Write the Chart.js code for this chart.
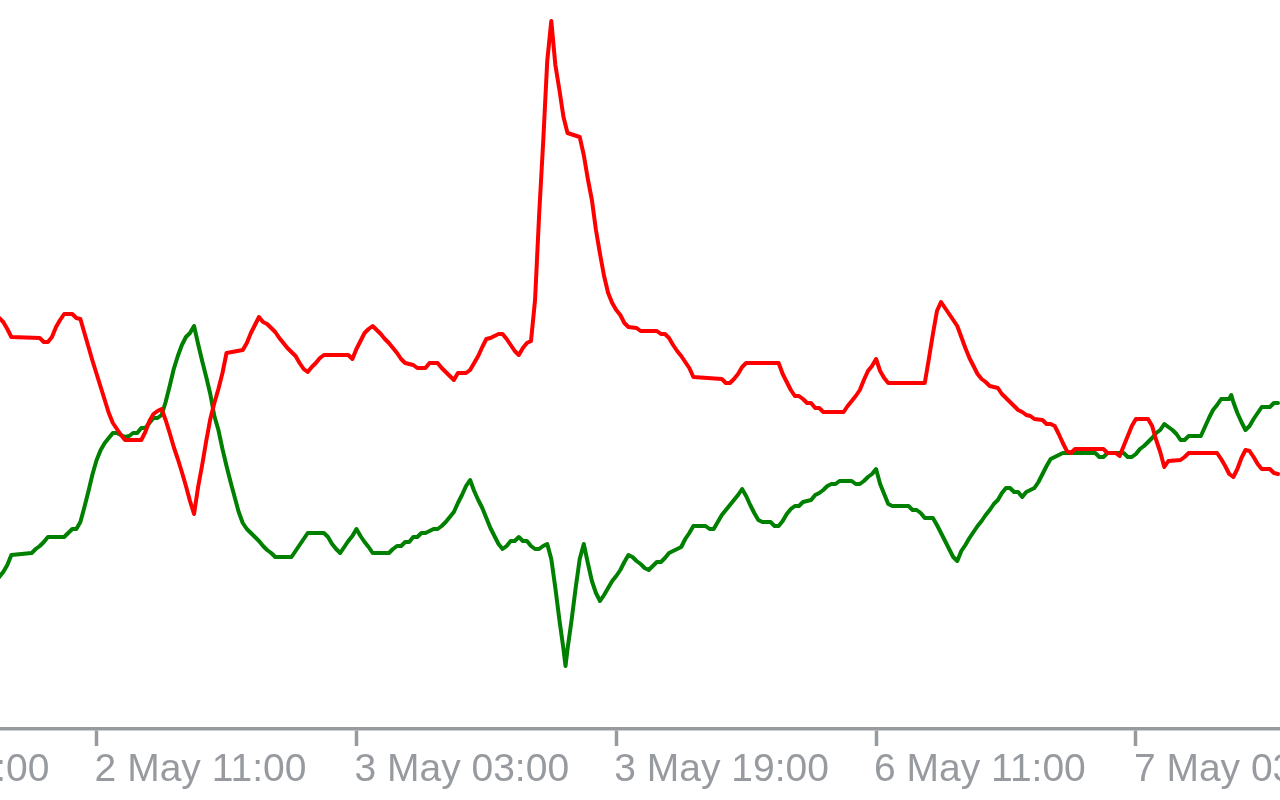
<!DOCTYPE html>
<html>
<head>
<meta charset="utf-8">
<title>DI lines</title>
<script src="https://cdn.jsdelivr.net/npm/chart.js@4/dist/chart.umd.min.js"></script>
<style>
  html, body { margin: 0; padding: 0; background: #ffffff; }
  #wrap { width: 1280px; height: 800px; }
</style>
</head>
<body>
<div id="wrap"><canvas id="chart" width="1280" height="800"></canvas></div>
<script>
// Datos: x = barra de 15 min (0 = 2 May 05:00), y = valor del indicador
const redX = [0,1,2,3,10,11,12,13,14,15,
  16,18,19,20,21,22,23,24,25,26,
  27,28,29,30,31,35,36,37,38,39,
  40,41,42,43,44,45,46,47,48,49,
  50,51,52,53,54,55,56,60,61,62,
  63,64,65,66,67,68,69,70,71,72,
  73,74,75,76,77,78,79,80,86,87,
  88,89,90,91,92,93,94,95,96,97,
  98,99,100,102,103,105,106,108,109,110,
  111,112,113,115,116,117,118,119,120,121,
  122,123,124,125,126,127,128,129,130,131,
  132,133,134,135,136,137,138,139,140,143,
  144,145,146,147,148,149,150,151,152,153,
  154,155,157,158,162,163,164,165,166,167,
  168,169,170,171,178,179,180,181,182,183,
  184,192,193,194,195,196,197,198,199,200,
  201,202,203,208,209,210,211,212,213,214,
  215,216,217,218,219,228,229,230,231,232,
  233,234,235,236,237,238,239,240,241,242,
  243,244,245,246,247,248,249,250,251,252,
  253,254,255,257,258,259,260,261,262,263,
  264,265,272,273,275,276,277,278,279,280,
  283,284,285,286,287,288,291,292,293,300,
  301,302,303,304,305,306,307,308,309,310,
  311,313,314,315];
const redY = [41.1,40.7,40.0,39.2,39.1,38.7,38.7,39.2,40.2,40.9,
  41.5,41.5,41.1,41.0,39.6,38.2,36.8,35.5,34.2,32.9,
  31.6,30.6,30.0,29.4,28.9,28.9,29.7,30.8,31.5,31.8,
  32.0,30.9,29.6,28.2,27.0,25.7,24.3,22.8,21.5,24.2,
  26.4,28.8,31.0,32.6,34.0,35.6,37.6,37.9,38.6,39.6,
  40.4,41.2,40.7,40.5,40.1,39.7,39.1,38.6,38.1,37.7,
  37.3,36.6,36.0,35.7,36.2,36.6,37.1,37.4,37.4,37.0,
  38.0,38.8,39.6,40.0,40.3,39.9,39.5,39.0,38.6,38.1,
  37.6,37.0,36.6,36.4,36.1,36.1,36.6,36.6,36.1,35.7,
  35.3,34.9,35.6,35.6,35.9,36.6,37.3,38.2,39.0,39.1,
  39.3,39.5,39.5,39.0,38.4,37.8,37.4,38.1,38.6,38.8,
  42.9,51.4,58.7,66.8,70.8,66.4,63.9,61.2,59.6,59.2,
  57.4,55.0,52.9,49.9,47.5,45.3,43.6,42.6,41.9,41.4,
  40.6,40.2,40.1,39.8,39.8,39.5,39.5,39.1,38.4,37.8,
  37.3,36.7,36.1,35.2,35.0,34.6,34.6,35.0,35.5,36.2,
  36.6,36.6,35.5,34.7,33.9,33.3,33.3,33.0,32.6,32.6,
  32.1,32.1,31.7,31.7,32.3,32.8,33.3,33.9,34.9,35.8,
  36.3,37.0,35.8,35.1,34.6,34.6,37.0,39.5,41.8,42.7,
  42.1,41.5,40.9,40.3,39.2,38.1,37.1,36.3,35.5,35.0,
  34.7,34.3,34.2,34.1,33.5,33.1,32.7,32.3,31.9,31.7,
  31.4,31.3,31.0,30.9,30.5,30.5,30.3,29.5,28.6,27.8,
  27.6,28.0,28.0,27.6,27.6,27.3,28.3,29.3,30.3,31.0,
  31.0,30.3,28.9,27.7,26.2,26.8,26.9,27.2,27.6,27.6,
  27.0,26.3,25.5,25.2,26.0,27.1,27.9,27.8,27.2,26.5,
  26.0,26.0,25.6,25.5];

const greenX = [0,1,2,3,8,9,10,11,12,16,
  17,18,19,20,21,22,23,24,25,26,
  27,28,29,30,31,32,33,34,35,36,
  37,38,39,40,41,42,43,44,45,46,
  47,48,49,50,51,52,53,54,55,56,
  57,58,59,60,61,62,63,64,65,66,
  67,68,72,73,74,75,76,80,81,82,
  83,84,85,86,87,88,89,90,91,92,
  96,97,98,99,100,101,102,103,104,105,
  106,107,108,109,110,111,112,113,114,115,
  116,117,118,119,120,121,122,123,124,125,
  126,127,128,129,130,131,132,133,134,135,
  136,137,138,139,139.5,140,141,142,143,144,
  145,146,147,148,149,150,151,152,153,154,
  155,156,157,158,159,160,161,162,163,164,
  165,166,167,168,169,170,171,174,175,176,
  177,178,179,180,181,182,183,184,185,186,
  187,188,190,191,192,193,194,195,196,197,
  198,200,201,202,203,204,205,206,207,210,
  211,212,213,214,215,216,217,218,219,220,
  224,225,226,227,228,230,231,232,233,234,
  235,236,237,238,239,240,241,242,243,244,
  245,246,247,248,249,250,251,252,253,254,
  255,256,257,258,259,260,261,262,270,271,
  272,273,277,278,279,280,281,282,283,284,
  285,286,287,288,289,290,291,292,293,296,
  297,298,299,300,301,303,303.5,304,305,306,
  307,308,309,310,311,313,314,315];
const greenY = [15.2,15.7,16.4,17.4,17.6,18.0,18.3,18.7,19.2,19.2,
  19.6,20.0,20.0,20.7,22.2,23.8,25.5,26.9,27.9,28.6,
  29.1,29.6,29.6,29.4,29.2,29.3,29.6,29.6,30.1,30.1,
  30.6,31.1,31.1,31.4,32.7,34.3,36.0,37.3,38.4,39.2,
  39.6,40.3,38.5,36.8,35.2,33.5,31.3,29.9,28.0,26.3,
  24.7,23.2,21.7,20.6,20.0,19.6,19.2,18.8,18.3,17.9,
  17.6,17.2,17.2,17.8,18.4,19.0,19.6,19.6,19.2,18.5,
  18.0,17.6,18.2,18.8,19.3,20.0,19.3,18.7,18.2,17.6,
  17.6,18.0,18.3,18.3,18.7,18.7,19.2,19.2,19.6,19.6,
  19.8,20.0,20.0,20.3,20.7,21.2,21.7,22.6,23.4,24.3,
  24.9,23.8,22.9,22.1,21.1,20.1,19.3,18.5,18.0,18.3,
  18.8,18.8,19.2,18.8,18.8,18.3,18.0,18.0,18.3,18.5,
  17.0,14.1,10.9,8.0,6.3,8.0,10.9,14.1,17.0,18.5,
  16.6,14.8,13.6,12.8,13.4,14.1,14.8,15.3,15.9,16.7,
  17.4,17.2,16.8,16.5,16.1,15.9,16.3,16.7,16.7,17.1,
  17.6,17.8,18.0,18.2,19.0,19.6,20.3,20.3,20.0,20.0,
  20.7,21.4,21.9,22.4,22.9,23.4,24.0,23.3,22.4,21.6,
  20.9,20.7,20.7,20.3,20.3,20.8,21.5,22.0,22.3,22.3,
  22.7,22.9,23.4,23.6,23.9,24.3,24.5,24.5,24.8,24.8,
  24.5,24.5,24.8,25.2,25.5,26.0,24.5,23.5,22.5,22.3,
  22.3,21.9,21.9,21.6,21.1,21.1,20.4,19.6,18.8,18.0,
  17.2,16.8,17.8,18.4,19.1,19.7,20.3,20.8,21.4,21.9,
  22.5,22.9,23.6,24.1,24.1,23.7,23.7,23.2,23.7,23.9,
  24.1,24.7,25.5,26.3,27.0,27.2,27.4,27.6,27.6,27.2,
  27.2,27.6,27.6,27.2,27.2,27.5,28.0,28.3,28.7,29.1,
  29.6,29.9,30.5,30.2,29.9,29.5,28.9,28.9,29.3,29.3,
  30.2,31.1,31.9,32.4,33.0,33.0,33.4,32.7,31.6,30.7,
  29.9,30.3,31.0,31.6,32.2,32.2,32.6,32.6];

// Etiquetas del eje de tiempo (posición en barras)
const tickBars = [-40, 24, 88, 152, 216, 280];
const tickLabels = ['1 May 19:00', '2 May 11:00', '3 May 03:00', '3 May 19:00', '6 May 11:00', '7 May 03:00'];

const axisColor = '#979ba0';

function toPoints(xs, ys) {
    return xs.map((x, i) => ({ x: x, y: ys[i] }));
}

// Estilo común de las dos líneas
const lineStyle = {
    borderWidth: 4,
    borderJoinStyle: 'round',
    borderCapStyle: 'round',
    pointRadius: 0,
    tension: 0,
    fill: false
};

const ctx = document.getElementById('chart').getContext('2d');
const chart = new Chart(ctx, {
    type: 'line',
    data: {
        datasets: [
            { ...lineStyle, label: 'red', data: toPoints(redX, redY), borderColor: '#ff0000' },
            { ...lineStyle, label: 'green', data: toPoints(greenX, greenY), borderColor: '#008000' }
        ]
    },
    options: {
        responsive: false,
        animation: false,
        layout: { padding: 0 },
        plugins: {
            legend: { display: false },
            tooltip: { enabled: false }
        },
        scales: {
            x: {
                type: 'linear',
                min: 0.2,
                max: 315.5,
                position: 'bottom',
                border: { display: true, color: axisColor, width: 3.5 },
                grid: {
                    display: true,
                    drawOnChartArea: false,
                    drawTicks: true,
                    tickLength: 17,
                    tickWidth: 3.5,
                    tickColor: axisColor,
                    color: axisColor
                },
                ticks: {
                    align: 'start',
                    autoSkip: false,
                    maxRotation: 0,
                    padding: 1,
                    labelOffset: -2,
                    color: axisColor,
                    font: { family: "'Liberation Sans', Arial, sans-serif", size: 39 },
                    callback: (value, index) => tickLabels[index]
                },
                afterBuildTicks: (scale) => {
                    scale.ticks = tickBars.map(v => ({ value: v }));
                },
                afterFit: (scale) => {
                    scale.height = 71;
                    scale.paddingLeft = 0;
                    scale.paddingRight = 0;
                }
            },
            y: {
                display: false,
                min: 0,
                max: 72.9
            }
        }
    }
});
</script>
</body>
</html>
